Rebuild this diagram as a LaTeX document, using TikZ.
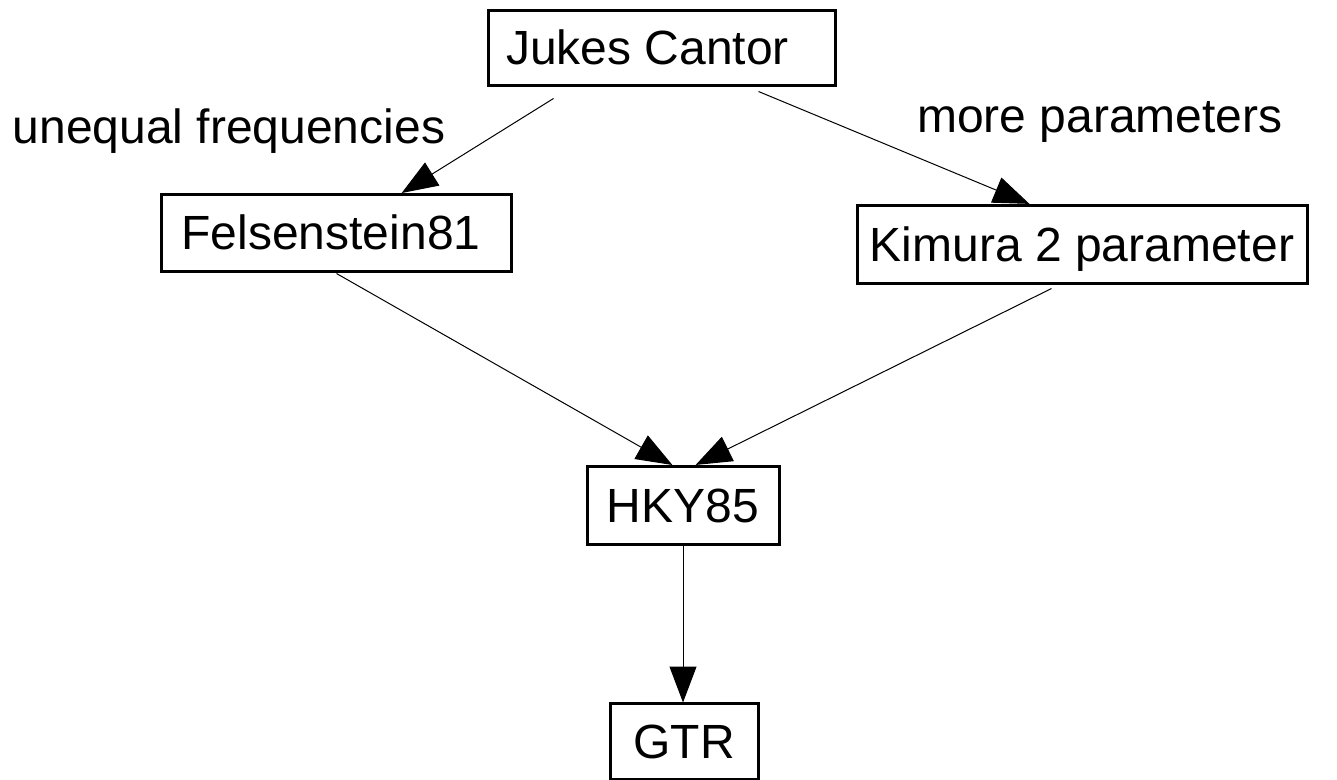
\documentclass[tikz,border=0pt]{standalone}
\usepackage{fontspec}
\setmainfont{Liberation Sans}
\usetikzlibrary{arrows.meta,calc}

\begin{document}
\begin{tikzpicture}[x=1pt,y=-1pt,
  model/.style={draw, line width=3pt, inner sep=0pt, text height=34.5pt, text depth=0pt,
    font=\fontsize{48}{58}\selectfont},
  edgelabel/.style={inner sep=0pt, anchor=base, font=\fontsize{48}{58}\selectfont},
  link/.style={line width=1pt, -{Triangle[length=36pt,width=27pt]}, shorten >=-1pt}
]
\useasboundingbox (0,0) rectangle (1337,779);

% model boxes
\node[model, minimum width=347pt, minimum height=75pt] (jc)  at (661.5,47.5) {Jukes Cantor\hspace*{28pt}};
\node[model, minimum width=350pt, minimum height=77pt] (f81) at (336,232.5) {Felsenstein81\hspace*{10pt}};
\node[model, minimum width=450pt, minimum height=78pt] (k2p) at (1082,244) {Kimura 2 parameter};
\node[model, minimum width=192pt, minimum height=78pt] (hky) at (683,505) {HKY85};
\node[model, minimum width=148pt, minimum height=76pt] (gtr) at (684,741) {GTR};

% edge labels
\node[edgelabel] (lblfreq)  at (229,143) {unequal frequencies};
\node[edgelabel] (lblparam) at (1100,132) {more parameters};

% connectors
\draw[link] ($(jc.south west)+(67,12)$) -- ($(f81.north west)+(243,0)$);
\draw[link] ($(jc.south east)+(-78,5)$) -- ($(k2p.north west)+(173,0)$);
\draw[link] ($(f81.south west)+(177,1)$) -- ($(hky.north west)+(86,0)$);
\draw[link] ($(k2p.south west)+(196,4)$) -- ($(hky.north west)+(111,0)$);
\draw[link] (hky.south) -- (hky.south |- gtr.north);
\end{tikzpicture}
\end{document}
